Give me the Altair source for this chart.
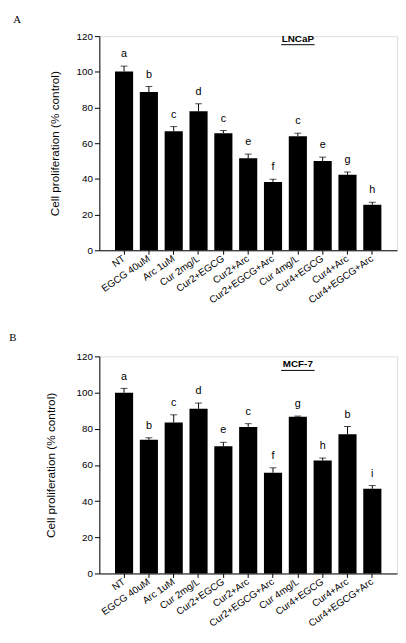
import altair as alt
import pandas as pd

categories = ["NT", "EGCG 40uM", "Arc 1uM", "Cur 2mg/L", "Cur2+EGCG", "Cur2+Arc",
              "Cur2+EGCG+Arc", "Cur 4mg/L", "Cur4+EGCG", "Cur4+Arc", "Cur4+EGCG+Arc"]

lncap_values = [100.2, 88.7, 66.7, 77.9, 65.6, 51.5, 38.3, 63.9, 50.0, 42.3, 25.5]
lncap_errors = [3.0, 3.1, 2.6, 4.2, 1.5, 2.4, 1.5, 1.7, 2.2, 1.5, 1.4]
lncap_letters = ["a", "b", "c", "d", "c", "e", "f", "c", "e", "g", "h"]

mcf7_values = [99.9, 73.9, 83.5, 91.0, 70.3, 81.0, 55.7, 86.6, 62.4, 77.0, 46.8]
mcf7_errors = [2.4, 1.1, 4.2, 3.2, 2.2, 1.8, 2.7, 0.4, 1.4, 4.3, 1.8]
mcf7_letters = ["a", "b", "c", "d", "e", "c", "f", "g", "h", "b", "i"]

y_ticks = [0, 20, 40, 60, 80, 100, 120]

FONT = "Liberation Sans"
Y_SCALE = alt.Scale(domain=[0, 120], nice=False)


def y_axis(title_pad):
    return alt.Axis(title="Cell proliferation (% control)", values=y_ticks, tickCount=7,
                    grid=False, labelFontSize=10, labelFont=FONT, labelColor="black",
                    labelOverlap=False, labelFlush=False,
                    titleFont=FONT, titleFontSize=12, titleFontWeight="normal",
                    titleColor="black", domainColor="black", tickColor="black",
                    tickSize=5, titlePadding=title_pad)


def xch():
    return alt.X("cat:N", sort=categories,
                 scale=alt.Scale(paddingInner=0.27, paddingOuter=0.63),
                 axis=alt.Axis(title=None, labelAngle=-35, labelAlign="right",
                               labelBaseline="middle", labelFontSize=10, labelFont=FONT,
                               labelColor="black", domainColor="black", tickColor="black",
                               tickSize=4, labelPadding=3, labelOverlap=False))


def panel(values, errors, letters, name, name_y, tag, height, title_pad, t_off):
    ax = y_axis(title_pad)

    def ych(field):
        return alt.Y(field + ":Q", scale=Y_SCALE, axis=ax)

    df = pd.DataFrame({
        "cat": categories,
        "val": values,
        "hi": [v + e for v, e in zip(values, errors)],
        "letter": letters,
    })
    base = alt.Chart(df)
    bars = base.mark_bar(color="black").encode(x=xch(), y=ych("val"))
    err = base.mark_rule(color="black", strokeWidth=1).encode(
        x=xch(), y=ych("val"), y2="hi:Q")
    cap = base.mark_tick(color="black", thickness=1, size=7).encode(
        x=xch(), y=ych("hi"))
    txt = base.mark_text(baseline="bottom", dy=-7, font=FONT, fontSize=11,
                         color="black").encode(
        x=xch(), y=ych("hi"), text="letter:N")
    lab_df = pd.DataFrame({"cat": ["Cur 4mg/L"], "y": [name_y], "name": [name]})
    lab = alt.Chart(lab_df).mark_text(font=FONT, fontSize=10, fontWeight="bold",
                                      baseline="middle", color="black").encode(
        x=xch(), y=ych("y"), text="name:N")
    ul = alt.Chart(lab_df).mark_rule(color="black", strokeWidth=1, xOffset=-17,
                                     x2Offset=17, yOffset=6, y2Offset=6).encode(
        x=xch(), x2=alt.X2("cat:N"), y=ych("y"), y2=alt.Y2("y:Q"))
    return alt.layer(bars, err, cap, txt, lab, ul).properties(
        width=303, height=height,
        title=alt.TitleParams(tag, anchor="start", frame="bounds", font="Liberation Serif",
                              fontSize=11, fontWeight="normal", color="black",
                              dx=-36, offset=t_off))


a = panel(lncap_values, lncap_errors, lncap_letters, "LNCaP", 118.5, "A", 218, 15, 6)
b = panel(mcf7_values, mcf7_errors, mcf7_letters, "MCF-7", 115.5, "B", 221, 19, 9)

chart = alt.vconcat(a, b, spacing=25).properties(
    padding={"left": 0, "top": 0, "right": 0, "bottom": 0}
).configure_view(stroke=None).configure(background="white")

chart.save("out.html", embed_options={"renderer": "svg", "actions": False})
